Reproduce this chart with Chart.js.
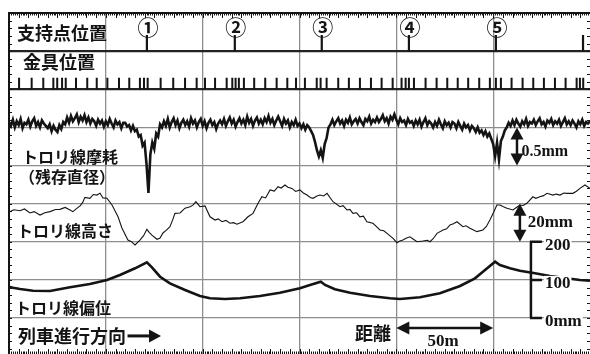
<!DOCTYPE html>
<html>
<head>
<meta charset="utf-8">
<script src="https://cdn.jsdelivr.net/npm/chart.js@4.4.1/dist/chart.umd.min.js"></script>
<style>
  html, body { margin: 0; padding: 0; background: #fff; }
  #wrap { position: relative; width: 590px; height: 354px; }
</style>
</head>
<body>
<div id="wrap"><canvas id="c"></canvas></div>
<script>
// distance along the line in metres, x axis 0..300 m (50 m per grid)
// wear trace: residual diameter in mm, one reading per metre from 0 m
const wearStepM = 1;
const wearMm = [
  11.57,11.52,11.60,11.50,11.58,11.53,11.61,11.49,11.56,11.54,
  11.60,11.51,11.58,11.62,11.52,11.57,11.50,11.59,11.55,11.52,
  11.49,11.54,11.45,11.52,11.47,11.44,11.53,11.48,11.57,11.54,
  11.63,11.56,11.65,11.58,11.62,11.67,11.57,11.64,11.59,11.66,
  11.57,11.63,11.55,11.61,11.58,11.52,11.60,11.55,11.59,11.51,
  11.58,11.53,11.61,11.55,11.50,11.59,11.54,11.57,11.49,11.56,
  11.56,11.51,11.53,11.46,11.52,11.45,11.47,11.38,11.40,11.26,
  11.30,11.02,10.64,11.15,11.30,11.22,11.42,11.38,11.54,11.50,
  11.58,11.52,11.61,11.50,11.57,11.62,11.53,11.59,11.49,11.56,
  11.60,11.53,11.58,11.51,11.62,11.55,11.59,11.50,11.57,11.61,
  11.52,11.58,11.49,11.56,11.60,11.53,11.57,11.48,11.55,11.59,
  11.54,11.61,11.52,11.58,11.63,11.55,11.60,11.51,11.57,11.62,
  11.55,11.60,11.53,11.64,11.56,11.61,11.52,11.59,11.63,11.55,
  11.60,11.54,11.62,11.57,11.65,11.56,11.61,11.53,11.59,11.64,
  11.58,11.52,11.61,11.55,11.59,11.50,11.57,11.53,11.60,11.52,
  11.55,11.49,11.54,11.47,11.53,11.50,11.45,11.40,11.31,11.20,
  11.12,11.20,11.10,11.28,11.36,11.50,11.54,11.60,11.53,11.58,
  11.62,11.55,11.59,11.52,11.60,11.56,11.63,11.54,11.58,11.61,
  11.55,11.62,11.57,11.53,11.61,11.58,11.64,11.55,11.60,11.57,
  11.63,11.57,11.61,11.66,11.58,11.62,11.55,11.64,11.60,11.67,
  11.60,11.54,11.62,11.57,11.59,11.53,11.61,11.56,11.58,11.52,
  11.59,11.54,11.60,11.51,11.57,11.62,11.53,11.58,11.55,11.50,
  11.57,11.52,11.60,11.54,11.49,11.58,11.53,11.56,11.50,11.57,
  11.55,11.49,11.57,11.52,11.47,11.55,11.50,11.53,11.46,11.52,
  11.49,11.44,11.50,11.43,11.46,11.40,11.45,11.38,11.42,11.35,
  11.28,11.12,11.30,11.08,11.32,11.38,11.46,11.50,11.56,11.52,
  11.59,11.53,11.60,11.55,11.51,11.58,11.54,11.61,11.52,11.57,
  11.55,11.60,11.53,11.58,11.62,11.54,11.57,11.51,11.59,11.56,
  11.61,11.53,11.58,11.55,11.60,11.52,11.57,11.62,11.54,11.58,
  11.53,11.59,11.55,11.50,11.58,11.54,11.60,11.52,11.57,11.55,11.58
];

// wire height, mm relative to the lowest grid of its band
const heightDist = [
  0, 2.5, 5.7, 8, 10.8, 13, 16, 18.5, 21.2, 24,
  26.3, 29, 31.5, 33, 35, 36.7, 38, 39.2, 41.8, 43.5,
  45.4, 47, 48.5, 50.6, 53.2, 56.3, 58.3, 61.4, 63, 65.1,
  67.6, 69.5, 71.2, 72.5, 73.8, 76.4, 78, 79.5, 81, 83.1,
  84.5, 85.7, 88.3, 90.9, 93.5, 95, 96.5, 98.6, 101.2, 103.8,
  106.4, 108, 110, 112, 114.1, 116, 117.7, 120.8, 123.4, 126,
  128.6, 130.6, 132.5, 134.8, 137, 138.9, 140.5, 142.5, 144, 146.1,
  148, 150.2, 152, 153.9, 155.5, 157, 159, 160.6, 162.5, 164.2,
  167.3, 170.9, 172.5, 174.5, 176, 177.6, 179.5, 181.2, 183, 184.8,
  187.9, 189.5, 191.5, 193.5, 195.2, 198.3, 200.3, 201.8, 203.4, 205,
  207, 209, 210.7, 213.7, 216, 217.4, 219, 221, 224.1, 226,
  227.7, 229.5, 231.3, 234.4, 236, 238, 241.6, 244.7, 246.5, 248.3,
  250.5, 251.9, 253.5, 255, 257.1, 260.2, 262, 263.8, 265.5, 267.4,
  270.5, 272, 274.1, 276, 277.8, 280.9, 282.5, 284.5, 286.5, 288.1,
  291.2, 293, 294.8, 297.4, 300
];
const heightMm = [
  15.5, 16.8, 16.3, 17.2, 15.1, 15.8, 14.0, 15.2, 15.8, 16.9,
  17.0, 18.0, 16.7, 15.8, 17.5, 18.8, 20.5, 23.3, 22.8, 24.8,
  24.5, 25.5, 23.0, 22.8, 19.3, 13.1, 7.2, 0.9, 0.2, -1.7,
  0.9, 3.2, 6.5, 4.8, 3.5, 1.3, 2.0, 4.6, 5.8, 7.9,
  11.5, 14.9, 15.1, 17.6, 18.4, 19.2, 21.0, 18.4, 18.8, 13.1,
  11.4, 12.0, 10.5, 11.2, 9.7, 10.0, 9.2, 10.5, 13.1, 14.9,
  20.2, 23.6, 23.0, 27.2, 26.6, 28.9, 28.2, 29.8, 28.6, 28.0,
  26.4, 27.2, 25.6, 24.5, 23.2, 22.8, 24.0, 24.5, 24.0, 25.4,
  21.0, 18.4, 18.9, 16.7, 17.0, 14.9, 15.2, 13.1, 13.4, 10.5,
  9.7, 8.2, 6.2, 5.8, 4.4, 1.8, -0.5, 0.4, 0.9, 1.8,
  2.6, 1.2, 0.0, 0.4, 0.8, 0.0, 1.6, 4.4, 6.2, 6.8,
  8.8, 9.4, 10.5, 7.9, 8.4, 7.1, 5.3, 6.2, 8.0, 11.4,
  16.0, 19.3, 19.3, 18.5, 17.6, 16.7, 18.0, 19.3, 19.0, 20.2,
  23.6, 22.8, 23.6, 24.2, 25.4, 24.5, 25.0, 24.5, 25.6, 25.4,
  25.4, 26.5, 28.0, 29.8, 28.0
];

// stagger (deviation), mm on the 0-200 scale
const devDist = [
  0, 2.1, 5.7, 12.4, 21.2, 31.5, 41.8, 50.6, 57.3, 65.1,
  71.2, 73.8, 78.0, 83.1, 90.9, 98.6, 103.8, 111.5, 119.3, 129.6,
  139.9, 150.2, 155.4, 161.0, 163.2, 168.3, 176.1, 186.4, 196.7, 201.9,
  212.2, 222.5, 232.9, 240.6, 245.8, 251.0, 253.5, 258.7, 263.8, 271.6,
  279.3, 287.1, 294.8, 300
];
const devMm = [
  82, 79.5, 76, 71.6, 70.8, 80.5, 89.2, 99.7, 112.8, 130.4,
  146.1, 133.0, 108.3, 91.0, 73.4, 57.7, 51.7, 49.8, 51.7, 57.7,
  66.4, 77.9, 86.6, 95.2, 86.6, 75.3, 66.4, 57.7, 51.7, 49.8,
  54.3, 64.8, 83.9, 104.1, 125.9, 147.7, 139.0, 130.4, 124.1, 117.2,
  110, 105, 99.7, 98
];
const devTicks = [0, 100, 200];
const devTickLabels = ['0mm', '100', '200'];

const supportDist = [71.2, 116.6, 161.5, 206.5, 251.4, 296.4];
const supportLabels = ['①', '②', '③', '④', '⑤', ''];

const fittingDist = [
  5.2, 11.7, 17.7, 22.9, 24.9, 27.4, 29.3, 34.6, 40.4, 45.3,
  50.8, 56.8, 62.1, 67.6, 69.7, 71.6, 78.3, 84.8, 90.9, 96.9,
  101.2, 106.4, 112.4, 115.3, 117.0, 118.7, 121.3, 126.6, 132.3, 138.2,
  143.7, 148.2, 152.8, 158.9, 160.9, 164.0, 170.0, 175.5, 181.2, 186.9,
  192.4, 198.1, 202.7, 204.8, 206.5, 209.1, 215.1, 220.8, 226.3, 231.7,
  237.1, 242.8, 248.3, 251.4, 254.0, 259.5, 265.2, 270.7, 276.2, 281.9,
  287.4, 293.1, 294.8, 296.5
];

const INK = '#141414';
const GRID = '#8e8e8e';
const JP = '"Noto Sans CJK JP", "Noto Sans CJK SC", sans-serif';
const SERIF = '"Liberation Serif", "DejaVu Serif", serif';

// rows of the recorder chart: each row is one grid band
const ROW_MIN = -0.944, ROW_MAX = 8;
function bandRange(valueAtRow, row, perRow) {
  return {
    min: valueAtRow + (ROW_MIN - row) * perRow,
    max: valueAtRow + (ROW_MAX - row) * perRow
  };
}
const wearRange = bandRange(11.5, 5, 0.5);
const heightRange = bandRange(0, 2, 20);
const devRange = bandRange(0, 0, 100);

function tickMarks(list, row0, row1) {
  const out = [];
  list.forEach(d => {
    out.push({ x: d, y: row0 }, { x: d, y: row1 }, { x: d, y: null });
  });
  return out;
}

function arrowHead(ctx, x, y, angle, len, half) {
  ctx.save();
  ctx.translate(x, y);
  ctx.rotate(angle);
  ctx.beginPath();
  ctx.moveTo(0, 0);
  ctx.lineTo(-len, -half);
  ctx.lineTo(-len, half);
  ctx.closePath();
  ctx.fill();
  ctx.restore();
}

function label(ctx, str, x, y, font, align, bg) {
  ctx.font = font;
  ctx.textAlign = align || 'left';
  ctx.textBaseline = 'middle';
  if (bg) {
    const w = ctx.measureText(str).width;
    const x0 = align === 'center' ? x - w / 2 : x;
    ctx.fillStyle = '#fff';
    ctx.fillRect(x0 - 1, y - 8, w + 2, 16);
  }
  ctx.fillStyle = INK;
  ctx.fillText(str, x, y);
}

const overlay = {
  id: 'overlay',
  afterDatasetsDraw(chart) {
    const { ctx, chartArea: a, scales } = chart;
    const X = v => scales.x.getPixelForValue(v);
    const R = v => scales.y.getPixelForValue(v);
    const D = v => scales.yDev.getPixelForValue(v);
    ctx.save();

    // frame and ruler ticks
    ctx.strokeStyle = INK;
    ctx.lineWidth = 1;
    ctx.beginPath();
    for (let m = 1; m < 300; m++) {
      const x = Math.round(X(m)) + 0.5;
      const len = m % 5 === 0 ? 5 : 2.5;
      ctx.moveTo(x, a.top); ctx.lineTo(x, a.top + len);
      ctx.moveTo(x, a.bottom); ctx.lineTo(x, a.bottom - len);
    }
    for (let k = -4; k < 40; k++) {
      const y = Math.round(R(k / 5)) + 0.5;
      ctx.moveTo(a.left, y); ctx.lineTo(a.left + 3, y);
      ctx.moveTo(a.right, y); ctx.lineTo(a.right - 3, y);
    }
    ctx.stroke();
    ctx.lineWidth = 2;
    ctx.beginPath();
    ctx.moveTo(a.left, a.bottom); ctx.lineTo(a.left, a.top); ctx.lineTo(a.right, a.top);
    ctx.stroke();

    // support numbers
    supportDist.forEach((s, i) => {
      label(ctx, supportLabels[i], X(s) + 1, R(7.64), '700 21px ' + JP, 'center');
    });

    // row names
    const big = '700 18px ' + JP, mid = '700 16px ' + JP;
    label(ctx, '支持点位置', X(4.1), R(7.47), big);
    label(ctx, '金具位置', X(7.2), R(6.71), big);
    label(ctx, 'トロリ線摩耗', X(6.7), R(4.23), mid);
    label(ctx, '（残存直径）', X(5.2), R(3.69), mid);
    label(ctx, 'トロリ線高さ', X(4.1), R(2.28), mid);
    label(ctx, 'トロリ線偏位', X(3.1), R(0.27), mid);
    label(ctx, '列車進行方向', X(4.6), R(-0.47), big);
    label(ctx, '距離', X(178.6), R(-0.39), big);

    ctx.fillStyle = INK;
    ctx.strokeStyle = INK;

    // train direction arrow
    ctx.lineWidth = 3;
    let y = R(-0.47);
    ctx.beginPath(); ctx.moveTo(X(61.2), y); ctx.lineTo(X(74), y); ctx.stroke();
    arrowHead(ctx, X(78.5), y, 0, 12, 6.5);

    // 50 m distance arrow
    y = R(-0.26);
    ctx.lineWidth = 2.5;
    ctx.beginPath(); ctx.moveTo(X(200) + 8, y); ctx.lineTo(X(250) - 8, y); ctx.stroke();
    arrowHead(ctx, X(200), y, Math.PI, 13, 6.5);
    arrowHead(ctx, X(250), y, 0, 13, 6.5);
    label(ctx, '50m', X(224.2), R(-0.62), 'bold 17px ' + SERIF, 'center');

    // 0.5 mm wear scale arrow
    let x = X(262.3);
    ctx.fillStyle = INK;
    ctx.lineWidth = 2.5;
    ctx.beginPath(); ctx.moveTo(x, R(5) + 8); ctx.lineTo(x, R(4) - 8); ctx.stroke();
    arrowHead(ctx, x, R(5), -Math.PI / 2, 12, 6.5);
    arrowHead(ctx, x, R(4), Math.PI / 2, 12, 6.5);
    label(ctx, '0.5mm', X(264.6), R(4.36), 'bold 16px ' + SERIF);

    // 20 mm height scale arrow
    x = X(263.8);
    ctx.fillStyle = INK;
    ctx.beginPath(); ctx.moveTo(x, R(3) + 8); ctx.lineTo(x, R(2) - 8); ctx.stroke();
    arrowHead(ctx, x, R(3), -Math.PI / 2, 12, 6.5);
    arrowHead(ctx, x, R(2), Math.PI / 2, 12, 6.5);
    label(ctx, '20mm', X(267.8), R(2.49), 'bold 17px ' + SERIF);

    // deviation scale bar
    x = X(269.5);
    ctx.strokeStyle = INK;
    ctx.lineWidth = 2.5;
    ctx.beginPath();
    ctx.moveTo(x, D(devTicks[devTicks.length - 1]));
    ctx.lineTo(x, D(devTicks[0]));
    devTicks.forEach(t => { ctx.moveTo(x - 1, D(t)); ctx.lineTo(x + 11, D(t)); });
    ctx.stroke();
    devTicks.forEach((t, i) => {
      label(ctx, devTickLabels[i], x + 14, D(t) + 4, 'bold 17px ' + SERIF, 'left', true);
    });

    ctx.restore();
  }
};

const ctx = document.getElementById('c').getContext('2d');
new Chart(ctx, {
  type: 'line',
  data: {
    datasets: [
      {
        label: 'トロリ線摩耗',
        data: wearMm.map((v, i) => ({ x: i * wearStepM, y: v })),
        yAxisID: 'yWear',
        borderColor: INK,
        borderWidth: 2.6,
        pointRadius: 0,
        tension: 0
      },
      {
        label: 'トロリ線高さ',
        data: heightDist.map((d, i) => ({ x: d, y: heightMm[i] })),
        yAxisID: 'yHeight',
        borderColor: INK,
        borderWidth: 1.1,
        pointRadius: 0,
        tension: 0
      },
      {
        label: 'トロリ線偏位',
        data: devDist.map((d, i) => ({ x: d, y: devMm[i] })),
        yAxisID: 'yDev',
        borderColor: INK,
        borderWidth: 2.6,
        pointRadius: 0,
        tension: 0
      },
      {
        label: '支持点位置',
        data: tickMarks(supportDist, 7, 7.42),
        yAxisID: 'y',
        borderColor: INK,
        borderWidth: 2.2,
        pointRadius: 0,
        spanGaps: false
      },
      {
        label: '金具位置',
        data: tickMarks(fittingDist, 6, 6.3),
        yAxisID: 'y',
        borderColor: INK,
        borderWidth: 2,
        pointRadius: 0,
        spanGaps: false
      }
    ]
  },
  options: {
    responsive: true,
    maintainAspectRatio: false,
    animation: false,
    layout: { padding: { left: 9, top: 13, right: 0, bottom: 0 } },
    plugins: { legend: { display: false }, tooltip: { enabled: false } },
    scales: {
      x: {
        type: 'linear', min: 0, max: 300,
        ticks: { display: false },
        border: { display: false },
        grid: { drawTicks: false, color: GRID, lineWidth: 1.3 },
        afterBuildTicks: axis => { axis.ticks = [50, 100, 150, 200, 250].map(v => ({ value: v })); }
      },
      y: {
        type: 'linear', min: ROW_MIN, max: ROW_MAX,
        ticks: { display: false },
        border: { display: false },
        grid: {
          drawTicks: false,
          color: c => (c.tick && c.tick.value >= 6) ? '#222' : GRID,
          lineWidth: c => (c.tick && c.tick.value >= 6) ? 2.2 : 1.3
        },
        afterBuildTicks: axis => { axis.ticks = [0, 1, 2, 3, 4, 5, 6, 7].map(v => ({ value: v })); }
      },
      yWear: { type: 'linear', display: false, min: wearRange.min, max: wearRange.max },
      yHeight: { type: 'linear', display: false, min: heightRange.min, max: heightRange.max },
      yDev: { type: 'linear', display: false, min: devRange.min, max: devRange.max }
    }
  },
  plugins: [overlay]
});
</script>
</body>
</html>
